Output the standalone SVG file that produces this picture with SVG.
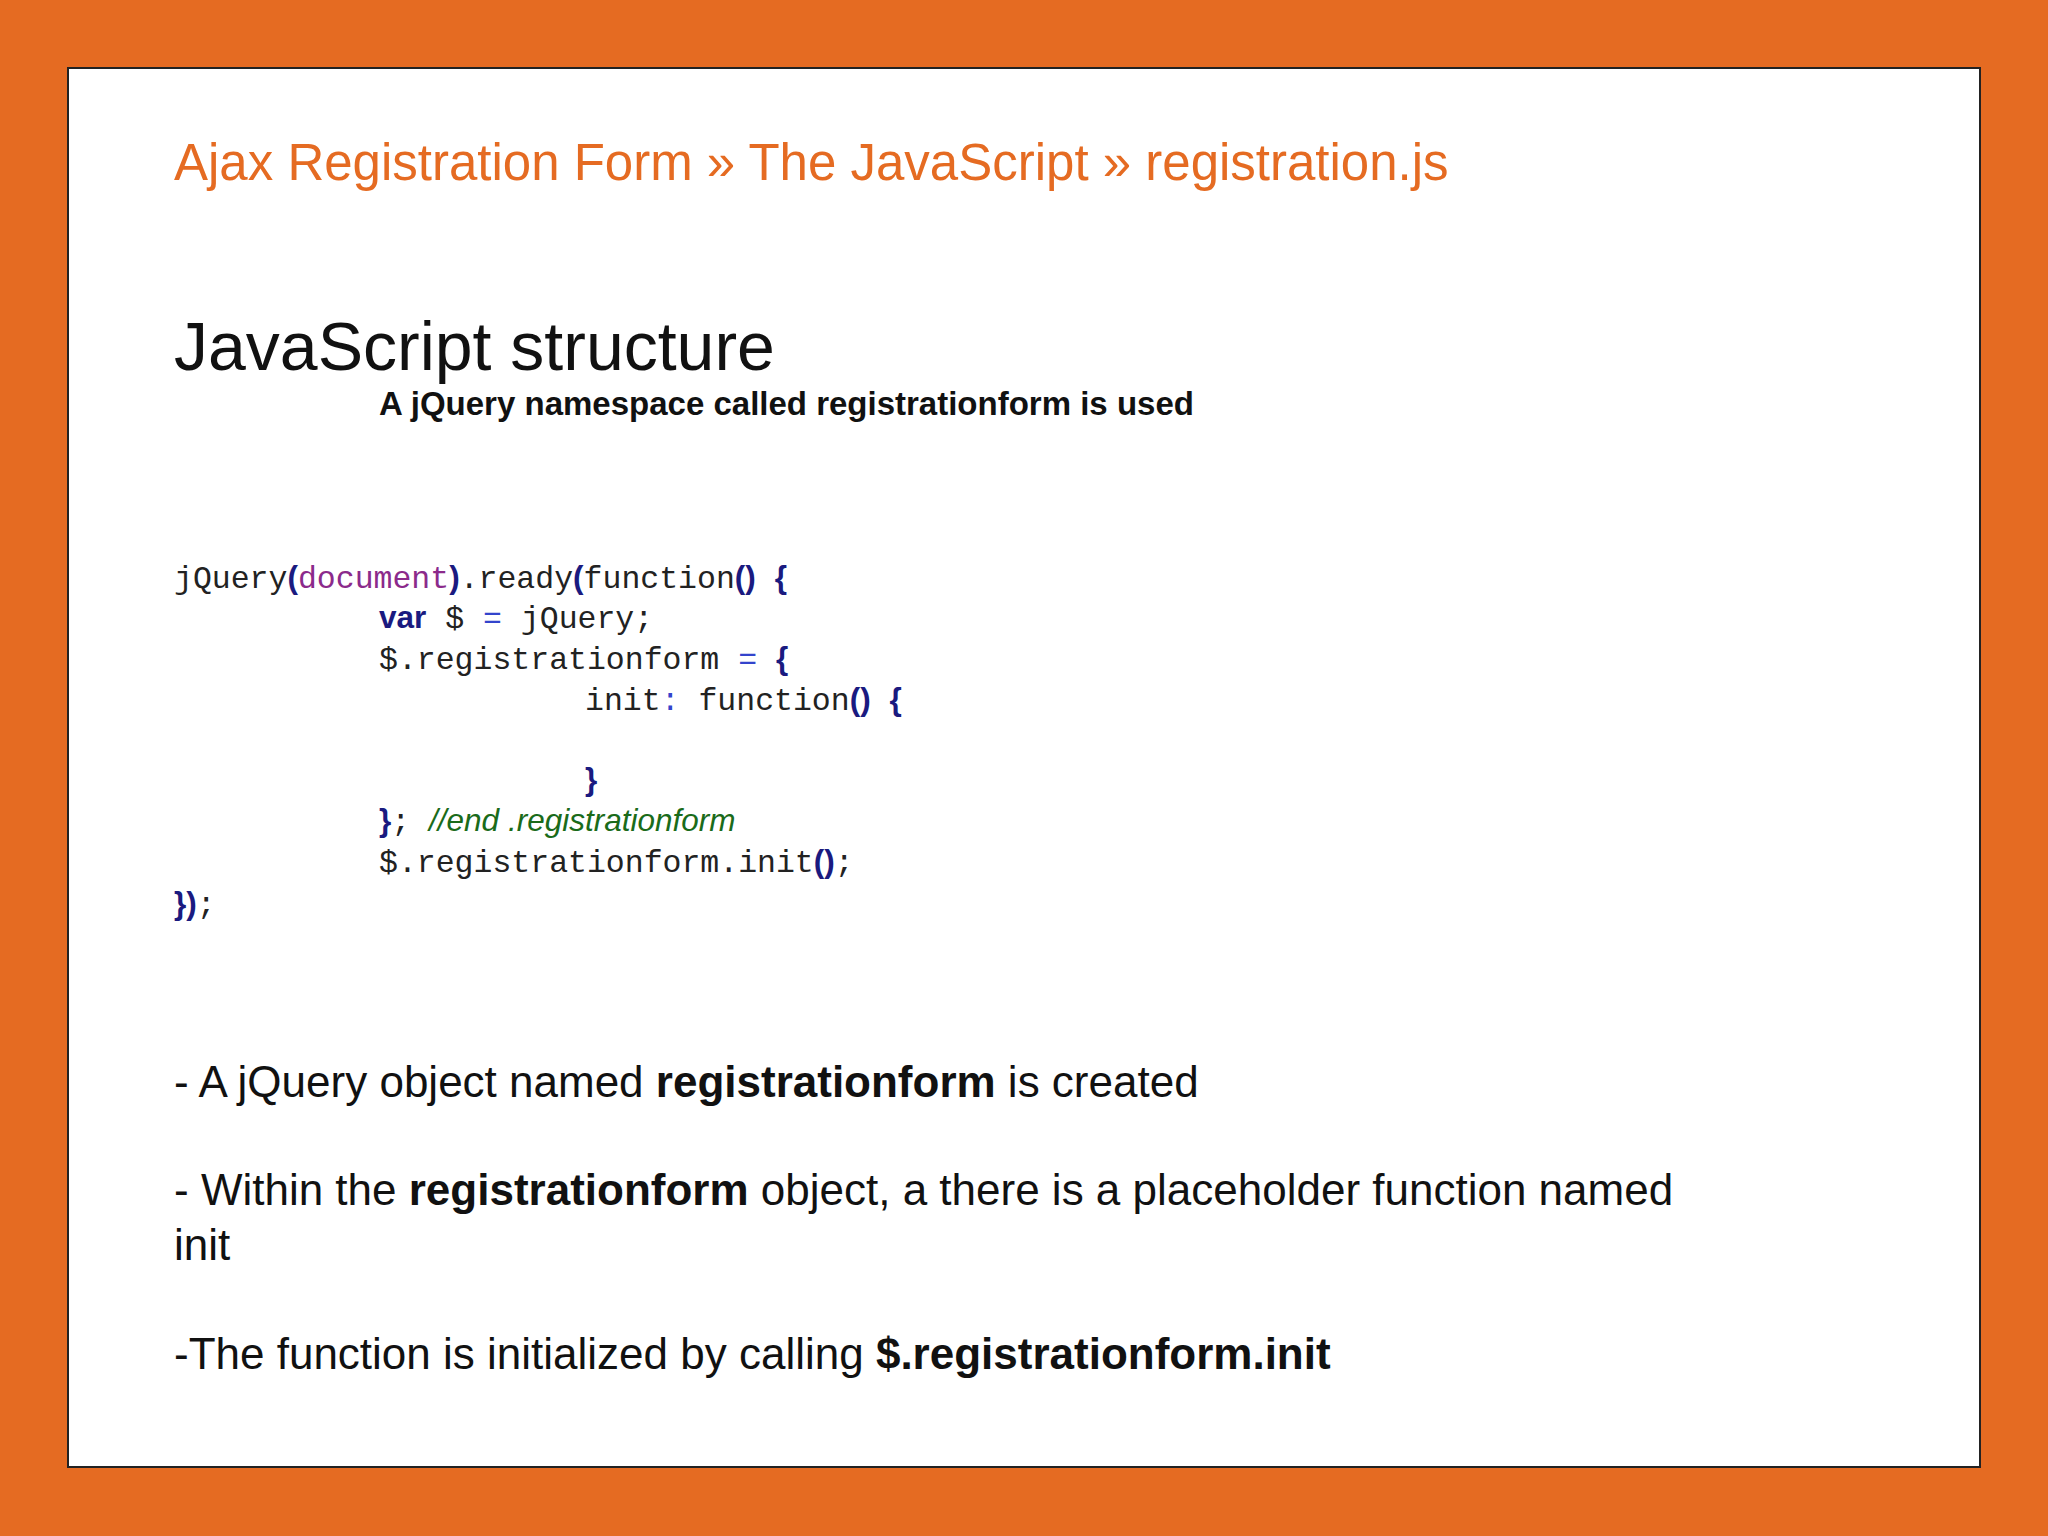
<svg xmlns="http://www.w3.org/2000/svg" width="2048" height="1536" viewBox="0 0 2048 1536">
<style>
.s{font-family:"Liberation Sans",Arial,sans-serif}
.m{font-family:"Liberation Mono","Courier New",monospace;font-size:31.5px;fill:#222}
.k{fill:#1a1a80;font-family:"Liberation Sans",Arial,sans-serif;font-weight:bold}
.b{font-size:44px;fill:#111}
</style>
<rect width="2048" height="1536" fill="#e56b22"/>
<rect x="68" y="68" width="1912" height="1399" fill="#fff" stroke="#222" stroke-width="2"/>
<g id="title"><text x="174" y="180" class="s" font-size="51" fill="#e56b22">Ajax Registration Form » The JavaScript » registration.js</text></g>
<g id="heading"><text x="174" y="370" class="s" font-size="68" fill="#111">JavaScript structure</text>
<text x="379" y="415" class="s" font-size="33" font-weight="bold" fill="#111">A jQuery namespace called registrationform is used</text></g>
<g id="code">
<text x="174" y="588" class="m">jQuery<tspan class="k">(</tspan><tspan fill="#8b2a8b">document</tspan><tspan class="k">)</tspan>.ready<tspan class="k">(</tspan>function<tspan class="k">()</tspan> <tspan class="k">{</tspan></text>
<text x="379" y="628" class="m"><tspan class="k">var</tspan> $ <tspan fill="#3344cc">=</tspan> jQuery;</text>
<text x="379" y="669" class="m">$.registrationform <tspan fill="#3344cc">=</tspan> <tspan class="k">{</tspan></text>
<text x="585" y="710" class="m">init<tspan fill="#3344cc">:</tspan> function<tspan class="k">()</tspan> <tspan class="k">{</tspan></text>
<text x="585" y="790" class="m"><tspan class="k">}</tspan></text>
<text x="379" y="831" class="m"><tspan class="k">}</tspan>;  <tspan fill="#1a6b1a" font-style="italic" font-family="Liberation Sans,Arial,sans-serif">//end .registrationform</tspan></text>
<text x="379" y="872" class="m">$.registrationform.init<tspan class="k">()</tspan>;</text>
<text x="174" y="914" class="m"><tspan class="k">})</tspan>;</text>
</g>
<g id="bullets" class="s">
<text x="174" y="1097" class="s b">- A jQuery object named <tspan font-weight="bold">registrationform</tspan> is created</text>
<text x="174" y="1205" class="s b">- Within the <tspan font-weight="bold">registrationform</tspan> object, a there is a placeholder function named</text>
<text x="174" y="1260" class="s b">init</text>
<text x="174" y="1369" class="s b">-The function is initialized by calling <tspan font-weight="bold">$.registrationform.init</tspan></text>
</g>
</svg>
